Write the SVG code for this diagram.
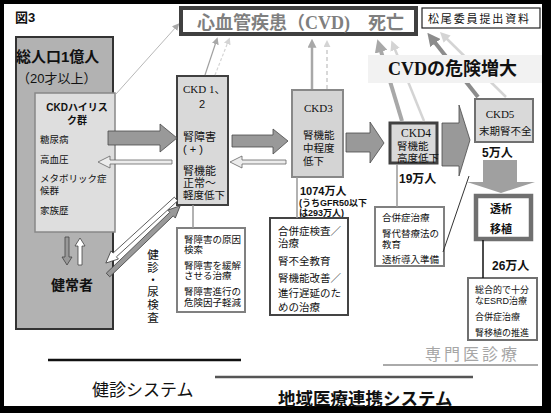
<svg xmlns="http://www.w3.org/2000/svg" width="551" height="413" viewBox="0 0 551 413">
<style>
text{font-family:"Liberation Sans","Noto Sans CJK JP",sans-serif;fill:#111;font-size:10.5px}
.ser{font-family:"Liberation Serif","Noto Sans CJK JP",serif}
.b{font-weight:bold}
.sm{font-size:9.5px}
.mid{text-anchor:middle}
.vt{font-size:11.5px;text-anchor:middle}
.box{stroke-width:2}
.big{fill:#999;stroke:#4a4a4a;stroke-width:0.8}
.ret{fill:#ececec;stroke:#666;stroke-width:0.8}
.lnk{stroke:#999;stroke-width:1.5;fill:none}
</style>
<defs>
<marker id="mA" viewBox="0 0 10 10" refX="3" refY="5" markerUnits="userSpaceOnUse" markerWidth="7" markerHeight="7" orient="auto"><path d="M0,0L10,5L0,10z" fill="#a8a8a8"/></marker>
<marker id="mB" viewBox="0 0 10 10" refX="3" refY="5" markerUnits="userSpaceOnUse" markerWidth="7" markerHeight="7" orient="auto"><path d="M0,0L10,5L0,10z" fill="#d4d4d4"/></marker>
<marker id="mC" viewBox="0 0 10 10" refX="3" refY="5" markerUnits="userSpaceOnUse" markerWidth="9" markerHeight="9" orient="auto"><path d="M0,0L10,5L0,10z" fill="#a8a8a8"/></marker>
<marker id="mD" viewBox="0 0 10 10" refX="3" refY="5" markerUnits="userSpaceOnUse" markerWidth="13" markerHeight="13" orient="auto"><path d="M0,0L10,5L0,10z" fill="#a8a8a8"/></marker>
<marker id="mE" viewBox="0 0 10 10" refX="3" refY="5" markerUnits="userSpaceOnUse" markerWidth="10" markerHeight="10" orient="auto"><path d="M0,0L10,5L0,10z" fill="#d4d4d4"/></marker>
<marker id="mF" viewBox="0 0 10 10" refX="3" refY="5" markerUnits="userSpaceOnUse" markerWidth="13" markerHeight="13" orient="auto"><path d="M0,0L10,5L0,10z" fill="#8c8c8c"/></marker>
</defs>

<g id="frame">
<rect x="0" y="0" width="551" height="413" fill="#000"/>
<rect x="4" y="4" width="538" height="402" fill="#fff"/>
<text x="15" y="22" class="b" style="font-size:13px">図3</text>
</g>

<g id="title">
<rect x="181" y="8" width="235" height="26" fill="#fff" stroke="#404040" stroke-width="4"/>
<text x="197" y="29" class="ser b" style="font-size:18px;fill:#7f7f7f">心血管疾患（CVD)　死亡</text>
</g>

<g id="source-note">
<rect x="422" y="8" width="118" height="20" fill="#fff" stroke="#222" stroke-width="1.2"/>
<text x="428" y="23" style="font-size:11px" textLength="101">松尾委員提出資料</text>
</g>

<g id="population">
<rect x="16" y="37" width="97" height="292" fill="#b2b2b2" stroke="#333" stroke-width="2"/>
<text x="16" y="62" class="b" style="font-size:15px">総人口1億人</text>
<text x="17" y="83" style="font-size:13px">（20才以上）</text>
<text x="72" y="290" class="b mid" style="font-size:14px">健常者</text>
</g>

<g id="highrisk">
<rect x="35" y="93" width="80" height="139" fill="#dedede" stroke="#888" stroke-width="1.5"/>
<text x="77" y="111" class="b mid" style="font-size:10px">CKDハイリス</text>
<text x="77" y="124" class="b mid" style="font-size:10px">ク群</text>
<text x="40" y="143" class="sm">糖尿病</text>
<text x="40" y="163" class="sm">高血圧</text>
<text x="40" y="182" class="sm">メタボリック症</text>
<text x="40" y="194" class="sm">候群</text>
<text x="40" y="214" class="sm">家族歴</text>
</g>

<g id="ckd12">
<rect x="177" y="76" width="51" height="129" fill="#d9d9d9" stroke="#404040" class="box"/>
<text x="183" y="93" class="ser" style="font-size:11px">CKD  1、</text>
<text x="202" y="108" class="mid" style="font-size:11px">2</text>
<text x="183" y="141" style="font-size:11px">腎障害</text>
<text x="183" y="153" style="font-size:11px">( + )</text>
<text x="183" y="175" style="font-size:11px">腎機能</text>
<text x="183" y="187" style="font-size:11px">正常〜</text>
<text x="183" y="199" style="font-size:10.5px">軽度低下</text>
</g>

<g id="ckd12-care">
<rect x="177" y="228" width="68" height="84" fill="#fff" stroke="#808080" class="box"/>
<text x="184" y="243" class="sm">腎障害の原因</text>
<text x="184" y="253" class="sm">検索</text>
<text x="184" y="269" class="sm">腎障害を緩解</text>
<text x="184" y="279" class="sm">させる治療</text>
<text x="184" y="295" class="sm">腎障害進行の</text>
<text x="184" y="306" class="sm">危険因子軽減</text>
</g>

<g id="checkup-label">
<text x="153" y="259" class="vt">健</text>
<text x="153" y="272" class="vt">診</text>
<text x="153" y="284" class="vt">・</text>
<text x="153" y="296" class="vt">尿</text>
<text x="153" y="309" class="vt">検</text>
<text x="153" y="322" class="vt">査</text>
</g>

<g id="ckd3">
<rect x="292" y="90" width="51" height="87" fill="#d4d4d4" stroke="#888" class="box"/>
<text x="304" y="112" class="ser" style="font-size:11px">CKD3</text>
<text x="303" y="139">腎機能</text>
<text x="303" y="152">中程度</text>
<text x="303" y="165">低下</text>
<text x="300" y="195" class="b" style="font-size:11px">1074万人</text>
<text x="299" y="206" class="b" style="font-size:9px">(うちGFR50以下</text>
<text x="299" y="216" class="b" style="font-size:9px">は293万人)</text>
</g>

<g id="ckd3-care">
<rect x="270" y="218" width="78" height="97" fill="#fff" stroke="#444" class="box"/>
<text x="278" y="235">合併症検査／</text>
<text x="278" y="247">治療</text>
<text x="278" y="265">腎不全教育</text>
<text x="278" y="282">腎機能改善／</text>
<text x="278" y="297">進行遅延のた</text>
<text x="278" y="311">めの治療</text>
</g>

<g id="ckd4">
<rect x="390" y="123" width="47" height="40" fill="#d9d9d9" stroke="#404040" stroke-width="3"/>
<text x="401" y="137" class="ser" style="font-size:11.5px">CKD4</text>
<text x="397" y="150">腎機能</text>
<text x="397" y="162">高度低下</text>
<text x="399" y="183" class="b" style="font-size:12px">19万人</text>
</g>

<g id="ckd4-care">
<rect x="375" y="207" width="69" height="59" fill="#fff" stroke="#808080" class="box"/>
<text x="382" y="221" class="sm">合併症治療</text>
<text x="382" y="237" class="sm">腎代替療法の</text>
<text x="382" y="248" class="sm">教育</text>
<text x="382" y="263" class="sm">透析導入準備</text>
</g>

<g id="ckd5">
<rect x="475" y="99" width="58" height="43" fill="#d9d9d9" stroke="#707070" class="box"/>
<text x="500" y="118" class="ser mid" style="font-size:11px">CKD5</text>
<text x="479" y="135">末期腎不全</text>
<text x="482" y="157" class="b" style="font-size:12px">5万人</text>
</g>

<g id="dialysis">
<rect x="476" y="196" width="55" height="43" fill="#fff" stroke="#707070" stroke-width="4.5"/>
<text x="501" y="213" class="b mid" style="font-size:11px">透析</text>
<text x="501" y="233" class="b mid" style="font-size:11px">移植</text>
<text x="492" y="270" class="b" style="font-size:12px">26万人</text>
</g>

<g id="esrd-care">
<rect x="468" y="278" width="69" height="62" fill="#fff" stroke="#707070" class="box"/>
<text x="475" y="293" style="font-size:9px">総合的で十分</text>
<text x="475" y="304" style="font-size:9px">なESRD治療</text>
<text x="475" y="320" style="font-size:9px">合併症治療</text>
<text x="475" y="336" style="font-size:9px">腎移植の推進</text>
</g>

<g id="systems">
<text x="425" y="360" style="font-size:16px;fill:#a6a6a6" textLength="92">専門医診療</text>
<line x1="383" y1="365" x2="538" y2="365" stroke="#aaa" stroke-width="2"/>
<line x1="48" y1="360" x2="241" y2="360" stroke="#111" stroke-width="2.5"/>
<text x="92" y="396" style="font-size:17px">健診システム</text>
<line x1="215" y1="377" x2="473" y2="377" stroke="#555" stroke-width="2.5"/>
<text x="278" y="405" class="b" style="font-size:17.5px">地域医療連携システム</text>
</g>

<g id="connectors">
<line x1="116" y1="94" x2="176" y2="27" stroke="#b8b8b8" stroke-width="1" marker-end="url(#mA)"/>
<line x1="205" y1="75" x2="216" y2="42" stroke="#a0a0a0" stroke-width="1.2" marker-end="url(#mA)"/>
<line x1="215" y1="75" x2="228" y2="42" stroke="#d4d4d4" stroke-width="1.2" stroke-dasharray="3,2" marker-end="url(#mB)"/>
<line x1="312" y1="89" x2="312" y2="45" stroke="#a8a8a8" stroke-width="2.5" marker-end="url(#mC)"/>
<line x1="327" y1="89" x2="327" y2="45" stroke="#d8d8d8" stroke-width="2" stroke-dasharray="4,3" marker-end="url(#mB)"/>
<line x1="402" y1="121" x2="380" y2="48" stroke="#a8a8a8" stroke-width="4" marker-end="url(#mD)"/>
<line x1="424" y1="121" x2="394" y2="47" stroke="#d4d4d4" stroke-width="2.5" marker-end="url(#mE)"/>
<line x1="478" y1="97" x2="433" y2="40" stroke="#8c8c8c" stroke-width="4" marker-end="url(#mF)"/>
<line x1="506" y1="97" x2="445" y2="37" stroke="#d4d4d4" stroke-width="2.5" marker-end="url(#mE)"/>
<polygon class="big" points="108,131 160,131 160,124 177,138 160,152 160,145 108,145"/>
<polygon class="big" points="232,135 273,135 273,129 288,141 273,154 273,147 232,147"/>
<polygon class="big" points="346,133 370,133 370,122 384,143 370,163 370,152 346,152"/>
<polygon class="big" points="442,123 459,123 459,105 470,140 459,176 459,166 442,166"/>
<polygon points="483,160 517,160 517,182 535,182 501,193 467,182 483,182" fill="#a0a0a0"/>
<polygon class="ret" points="98,162 110,156 110,160 172,160 172,164 110,164 110,168"/>
<polygon class="ret" points="230,162 242,156 242,160 286,160 286,164 242,164 242,168"/>
<polygon points="65,237 69,237 69,257 72,257 67,265 62,257 65,257" fill="#999" stroke="#444" stroke-width="0.8"/>
<polygon points="78,265 82,265 82,246 85,246 80,238 75,246 78,246" fill="#fff" stroke="#444" stroke-width="0.8"/>
<polygon transform="translate(108,275) rotate(-43.8)" points="0,-2.5 88,-2.5 88,-5.5 100,0 88,5.5 88,2.5 0,2.5" fill="#999" stroke="#444" stroke-width="0.8"/>
<polygon transform="translate(176,199) rotate(137.6)" points="0,-2.5 83,-2.5 83,-5.5 95,0 83,5.5 83,2.5 0,2.5" fill="#fff" stroke="#444" stroke-width="0.8"/>
<line class="lnk" x1="193" y1="205" x2="193" y2="228"/>
<line class="lnk" x1="297" y1="177" x2="297" y2="218"/>
<line class="lnk" x1="397" y1="164" x2="397" y2="207"/>
<line x1="443" y1="252" x2="469" y2="176" stroke="#333" stroke-width="1"/>
<line x1="483" y1="240" x2="483" y2="278" stroke="#111" stroke-width="1.5"/>
</g>

<g id="cvd-risk">
<rect x="368" y="55" width="174" height="28" fill="#f2f2f2"/>
<text x="388" y="75" class="ser b" style="font-size:18px">CVDの危険増大</text>
</g>
</svg>
